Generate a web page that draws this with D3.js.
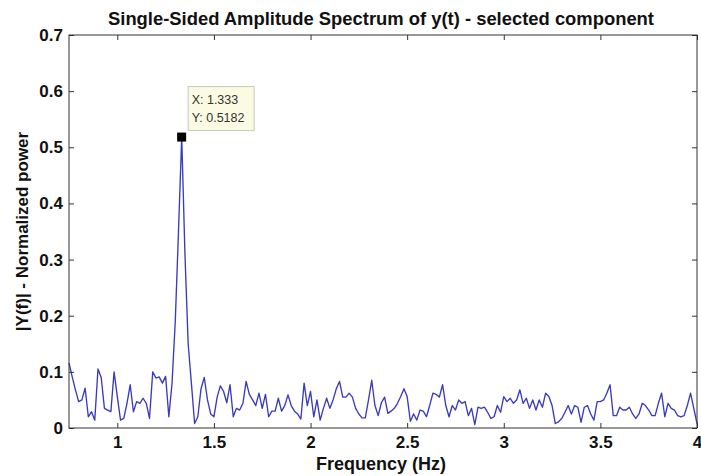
<!DOCTYPE html>
<html>
<head>
<meta charset="utf-8">
<script src="https://cdn.jsdelivr.net/npm/d3@7"></script>
<style>
  body { margin: 0; background: #fff; }
  svg text { font-family: "Liberation Sans", Arial, sans-serif; }
</style>
</head>
<body>
<svg id="chart"></svg>
<script>
// spectrum bins: start frequency and bin spacing (Hz)
const freqStart = 0.75;
const freqStep = 1 / 60;

// |Y(f)|, one value per bin from 0.75 Hz to 4 Hz
const amp = [
  0.116, 0.091, 0.068, 0.047, 0.050, 0.071, 0.020, 0.029, 0.014, 0.105,
  0.090, 0.035, 0.032, 0.029, 0.100, 0.056, 0.014, 0.017, 0.044, 0.077,
  0.029, 0.047, 0.044, 0.053, 0.044, 0.017, 0.100, 0.089, 0.091, 0.080,
  0.092, 0.020, 0.080, 0.190, 0.350, 0.5182, 0.310, 0.150, 0.080, 0.008,
  0.020, 0.070, 0.090, 0.050, 0.025, 0.020, 0.055, 0.075, 0.065, 0.045,
  0.077, 0.020, 0.035, 0.032, 0.044, 0.083, 0.060, 0.050, 0.040, 0.062,
  0.035, 0.060, 0.020, 0.030, 0.030, 0.053, 0.030, 0.040, 0.059, 0.040,
  0.030, 0.025, 0.016, 0.080, 0.040, 0.065, 0.020, 0.050, 0.014, 0.035,
  0.053, 0.035, 0.050, 0.070, 0.083, 0.055, 0.055, 0.062, 0.055, 0.035,
  0.025, 0.018, 0.018, 0.050, 0.085, 0.040, 0.022, 0.045, 0.055, 0.026,
  0.030, 0.035, 0.044, 0.056, 0.070, 0.056, 0.012, 0.025, 0.014, 0.032,
  0.030, 0.020, 0.040, 0.062, 0.060, 0.055, 0.077, 0.040, 0.020, 0.040,
  0.032, 0.050, 0.044, 0.047, 0.022, 0.035, 0.006, 0.037, 0.035, 0.037,
  0.028, 0.017, 0.020, 0.040, 0.028, 0.056, 0.047, 0.053, 0.044, 0.050,
  0.068, 0.044, 0.053, 0.035, 0.050, 0.032, 0.050, 0.037, 0.062, 0.056,
  0.040, 0.008, 0.011, 0.017, 0.028, 0.040, 0.025, 0.040, 0.037, 0.010,
  0.037, 0.040, 0.025, 0.014, 0.047, 0.047, 0.050, 0.062, 0.077, 0.022,
  0.022, 0.037, 0.032, 0.032, 0.037, 0.025, 0.017, 0.025, 0.044, 0.040,
  0.032, 0.022, 0.022, 0.044, 0.062, 0.020, 0.044, 0.035, 0.032, 0.022,
  0.020, 0.022, 0.040, 0.062, 0.035, 0.008
];

const xTicks = [1, 1.5, 2, 2.5, 3, 3.5, 4];
const yTicks = [0, 0.1, 0.2, 0.3, 0.4, 0.5, 0.6, 0.7];

// data tip shown on the peak
const tipX = 1.333;
const tipY = 0.5182;

const titleText = "Single-Sided Amplitude Spectrum of y(t) - selected component";
const xLabel = "Frequency (Hz)";
const yLabel = "|Y(f)| - Normalized power";

window.onload = function() {
    var width = 701, height = 476;
    var margin = {top: 35, right: 4, bottom: 48, left: 69};
    var w = width - margin.left - margin.right,
        h = height - margin.top - margin.bottom;

    var data = amp.map(function(v, i) {
        return {f: freqStart + i * freqStep, a: v};
    });

    var svg = d3.select("#chart")
                .attr("width", width)
                .attr("height", height);

    var x = d3.scaleLinear().domain([0.75, 4]).range([0, w]);
    var y = d3.scaleLinear().domain([0, 0.7]).range([h, 0]);

    var g = svg.append("g")
               .attr("transform", "translate(" + margin.left + "," + margin.top + ")");

    // the trace
    var line = d3.line()
                 .x(function(d) { return x(d.f); })
                 .y(function(d) { return y(d.a); });

    g.append("path")
     .datum(data)
     .attr("fill", "none")
     .attr("stroke", "#3a3ac0")
     .attr("stroke-width", 1.35)
     .attr("stroke-linejoin", "round")
     .attr("d", line);

    // matlab style box with inward ticks on all sides
    var fmt = function(d) { return String(d); };
    var xAxis = g.append("g").attr("transform", "translate(0," + h + ")")
                 .call(d3.axisBottom(x).tickValues(xTicks).tickFormat(fmt)
                         .tickSizeInner(-5).tickSizeOuter(0).tickPadding(8));
    var yAxis = g.append("g")
                 .call(d3.axisLeft(y).tickValues(yTicks).tickFormat(fmt)
                         .tickSizeInner(-5).tickSizeOuter(0).tickPadding(6));
    var topAxis = g.append("g")
                   .call(d3.axisTop(x).tickValues(xTicks).tickFormat("")
                           .tickSizeInner(-5).tickSizeOuter(0));
    var rightAxis = g.append("g").attr("transform", "translate(" + w + ",0)")
                     .call(d3.axisRight(y).tickValues(yTicks).tickFormat("")
                             .tickSizeInner(-5).tickSizeOuter(0));

    [xAxis, yAxis, topAxis, rightAxis].forEach(function(a) {
        a.select(".domain").remove();
        a.selectAll("line").attr("stroke", "#333");
        a.selectAll("text")
         .attr("fill", "#111")
         .style("font-size", "17px")
         .style("font-weight", "bold");
    });

    g.append("rect")
     .attr("x", 0).attr("y", 0)
     .attr("width", w).attr("height", h)
     .attr("fill", "none")
     .attr("stroke", "#333")
     .attr("stroke-width", 1);

    // data tip
    var mx = x(tipX), my = y(tipY);
    g.append("rect")
     .attr("x", mx - 4.5).attr("y", my - 4.5)
     .attr("width", 9).attr("height", 9)
     .attr("fill", "#000");

    var tip = g.append("g").attr("transform", "translate(" + (mx + 6) + "," + (my - 51) + ")");
    tip.append("rect")
       .attr("x", 0.5).attr("y", 0.5)
       .attr("width", 66).attr("height", 44)
       .attr("fill", "#fbfbe4")
       .attr("stroke", "#c9c9b8");
    tip.append("text")
       .attr("x", 4).attr("y", 18)
       .attr("fill", "#333")
       .style("font-size", "12.5px")
       .text("X: " + tipX);
    tip.append("text")
       .attr("x", 4).attr("y", 36)
       .attr("fill", "#333")
       .style("font-size", "12.5px")
       .text("Y: " + tipY);

    // title and labels
    svg.append("text")
       .attr("x", margin.left + w / 2 - 2).attr("y", 25)
       .attr("text-anchor", "middle")
       .attr("fill", "#111")
       .style("font-size", "18.4px")
       .style("font-weight", "bold")
       .text(titleText);

    svg.append("text")
       .attr("x", margin.left + w / 2 - 2).attr("y", 470)
       .attr("text-anchor", "middle")
       .attr("fill", "#111")
       .style("font-size", "18px")
       .style("font-weight", "bold")
       .text(xLabel);

    svg.append("text")
       .attr("transform", "translate(28," + (margin.top + h / 2) + ") rotate(-90)")
       .attr("text-anchor", "middle")
       .attr("fill", "#111")
       .style("font-size", "17px")
       .style("font-weight", "bold")
       .text(yLabel);
};
</script>
</body>
</html>
